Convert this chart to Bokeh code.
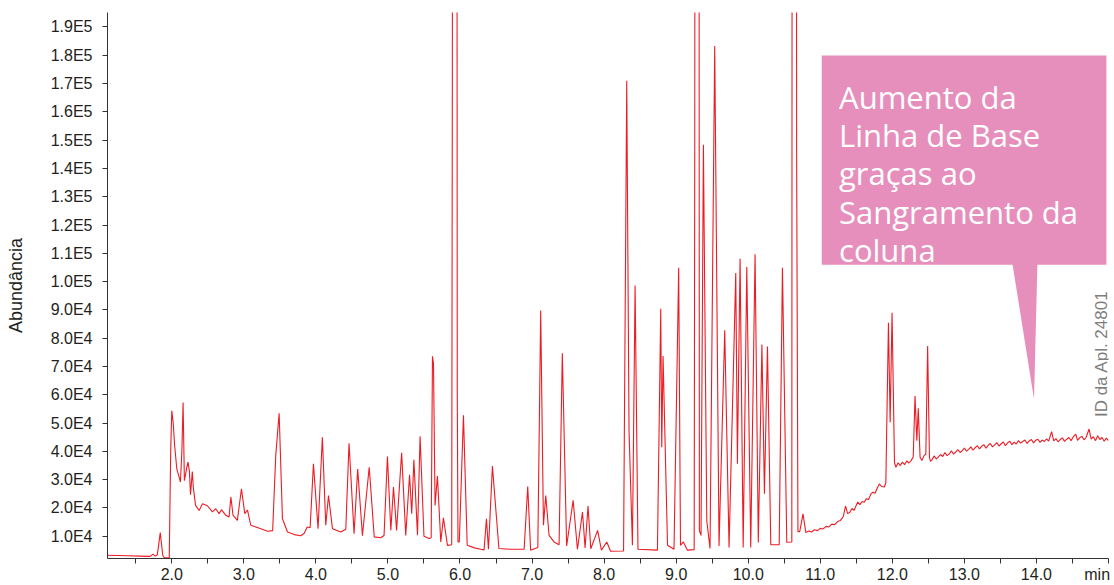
import math
from bokeh.plotting import figure
from bokeh.models import FixedTicker, Label, Range1d
from bokeh.embed import file_html
from bokeh.resources import INLINE

# ---------------- data ----------------
retention_time_min = [
    1.11, 1.25, 1.40, 1.55, 1.70, 1.74, 1.77, 1.80, 1.84, 1.875,
    1.90, 1.965, 1.985, 2.00, 2.02, 2.04, 2.07, 2.12, 2.14, 2.157,
    2.175, 2.21, 2.225, 2.245, 2.26, 2.285, 2.30, 2.33, 2.38, 2.426,
    2.495, 2.565, 2.61, 2.656, 2.69, 2.75, 2.795, 2.82, 2.85, 2.91,
    2.967, 3.013, 3.05, 3.096, 3.235, 3.33, 3.40, 3.443, 3.49, 3.536,
    3.606, 3.70, 3.79, 3.836, 3.88, 3.92, 3.966, 4.03, 4.09, 4.137,
    4.175, 4.23, 4.345, 4.415, 4.46, 4.53, 4.58, 4.646, 4.74, 4.81,
    4.90, 4.946, 4.993, 5.04, 5.077, 5.12, 5.19, 5.247, 5.30, 5.33,
    5.36, 5.41, 5.446, 5.50, 5.57, 5.60, 5.618, 5.632, 5.654, 5.687,
    5.733, 5.77, 5.826, 5.885, 5.894, 5.90, 5.955, 5.962, 5.972, 5.99,
    6.048, 6.10, 6.20, 6.29, 6.334, 6.367, 6.395, 6.45, 6.54, 6.70,
    6.89, 6.94, 6.98, 7.08, 7.12, 7.158, 7.19, 7.236, 7.305, 7.375,
    7.42, 7.48, 7.57, 7.63, 7.70, 7.736, 7.777, 7.815, 7.91, 7.963,
    8.037, 8.09, 8.27, 8.314, 8.346, 8.393, 8.43, 8.47, 8.74, 8.786,
    8.80, 8.818, 8.88, 8.97, 9.035, 9.06, 9.10, 9.156, 9.25, 9.258,
    9.265, 9.315, 9.322, 9.345, 9.378, 9.425, 9.47, 9.535, 9.595, 9.674,
    9.734, 9.827, 9.85, 9.887, 9.93, 9.98, 10.035, 10.095, 10.14, 10.19,
    10.225, 10.267, 10.313, 10.43, 10.475, 10.535, 10.605, 10.612, 10.665, 10.672,
    10.69, 10.715, 10.76, 10.80, 10.84, 10.88, 10.92, 10.96, 11.00, 11.04,
    11.08, 11.12, 11.16, 11.20, 11.24, 11.28, 11.32, 11.35, 11.38, 11.41,
    11.44, 11.47, 11.50, 11.52, 11.55, 11.58, 11.61, 11.64, 11.67, 11.70,
    11.73, 11.76, 11.79, 11.82, 11.85, 11.89, 11.91, 11.946, 11.97, 11.996,
    12.03, 12.05, 12.08, 12.11, 12.14, 12.17, 12.20, 12.23, 12.26, 12.29,
    12.315, 12.34, 12.36, 12.385, 12.41, 12.44, 12.465, 12.49, 12.515, 12.53,
    12.55, 12.58, 12.61, 12.64, 12.67, 12.70, 12.73, 12.76, 12.79, 12.82,
    12.85, 12.88, 12.91, 12.94, 12.97, 13.00, 13.03, 13.06, 13.09, 13.12,
    13.15, 13.18, 13.21, 13.24, 13.27, 13.30, 13.33, 13.36, 13.39, 13.42,
    13.45, 13.48, 13.51, 13.54, 13.57, 13.60, 13.63, 13.66, 13.69, 13.72,
    13.75, 13.78, 13.81, 13.84, 13.87, 13.90, 13.93, 13.96, 13.99, 14.02,
    14.05, 14.08, 14.11, 14.14, 14.17, 14.21, 14.24, 14.27, 14.30, 14.33,
    14.36, 14.39, 14.42, 14.45, 14.48, 14.51, 14.545, 14.57, 14.60, 14.63,
    14.66, 14.69, 14.73, 14.76, 14.79, 14.82, 14.85, 14.88, 14.91, 14.94,
    14.97, 15.00,
]
abundance = [
    3300, 3200, 3100, 3000, 2900, 3700, 3000, 3500, 11300, 3200,
    2400, 2400, 40000, 54400, 50000, 42000, 33800, 29200, 40000, 57300,
    29700, 34500, 36200, 33000, 24700, 32900, 27000, 20900, 19150, 21500,
    20800, 18600, 19750, 18000, 19400, 17400, 16800, 23900, 17500, 15600,
    26800, 18000, 19300, 13900, 12700, 11800, 12000, 38500, 53500, 16200,
    11500, 10600, 10200, 11000, 13300, 13000, 35600, 12700, 45000, 13900,
    24400, 12700, 11500, 12500, 42900, 10950, 33800, 10200, 34400, 9800,
    9500, 10300, 38200, 12100, 27400, 12100, 39500, 10300, 31700, 18000,
    37000, 10350, 45300, 10000, 9200, 9500, 73600, 71000, 20900, 31300,
    8000, 16500, 6800, 7000, 176000, 420000, 420000, 61000, 8000, 8000,
    52800, 6800, 5900, 5400, 5200, 16200, 5400, 34800, 5670, 5400,
    5400, 27600, 5100, 6000, 89800, 13900, 24400, 10350, 8000, 7000,
    74700, 6560, 22700, 5400, 18600, 5900, 20700, 5600, 12100, 5100,
    8000, 4700, 4800, 171000, 47000, 6800, 98600, 5400, 5100, 90400,
    41500, 73700, 6800, 5400, 104900, 6800, 8000, 5100, 5300, 147000,
    420000, 420000, 12000, 10300, 148400, 15500, 5700, 183300, 6550, 82800,
    6000, 103000, 35600, 108100, 6000, 105200, 6000, 109700, 7800, 77800,
    25000, 77100, 7000, 7000, 104900, 7900, 8000, 420000, 420000, 144800,
    11650, 11650, 17900, 11300, 11900, 11500, 12300, 12000, 12800, 12600,
    13500, 13300, 14300, 14100, 15200, 15600, 17000, 20700, 18000, 18500,
    19800, 19200, 21000, 22100, 21200, 22300, 22000, 23300, 23000, 24800,
    25600, 25200, 27000, 28500, 27600, 27400, 29000, 85500, 50300, 89000,
    36000, 34400, 36000, 35000, 36200, 35300, 36600, 35900, 36750, 38000,
    59600, 43800, 55200, 37900, 36800, 38500, 39000, 77200, 37900, 36500,
    37000, 38400, 37300, 38100, 38900, 38200, 39600, 38500, 39100, 40200,
    39000, 39800, 40600, 39600, 40300, 41200, 40100, 40700, 41600, 40400,
    41300, 42000, 40900, 41800, 42400, 41100, 42100, 42800, 41600, 42300,
    43100, 41900, 42700, 43300, 42000, 43000, 43600, 42400, 43300, 42600,
    43800, 42900, 43500, 44000, 42800, 43700, 44200, 43000, 43900, 44300,
    43200, 44000, 43500, 44400, 43600, 47000, 43700, 44500, 43400, 44200,
    44800, 43500, 44300, 44900, 43800, 45100, 46100, 43900, 44800, 45300,
    44100, 45000, 47900, 44300, 45200, 43800, 45500, 44200, 44900, 43600,
    44700, 43800,
]

y_tick_values = [10000, 20000, 30000, 40000, 50000, 60000, 70000, 80000, 90000,
                 100000, 110000, 120000, 130000, 140000, 150000, 160000, 170000,
                 180000, 190000]
y_tick_labels = ["1.0E4", "2.0E4", "3.0E4", "4.0E4", "5.0E4", "6.0E4", "7.0E4",
                 "8.0E4", "9.0E4", "1.0E5", "1.1E5", "1.2E5", "1.3E5", "1.4E5",
                 "1.5E5", "1.6E5", "1.7E5", "1.8E5", "1.9E5"]
x_tick_values = [2, 3, 4, 5, 6, 7, 8, 9, 10, 11, 12, 13, 14, 15]
x_tick_labels = ["2.0", "3.0", "4.0", "5.0", "6.0", "7.0", "8.0", "9.0", "10.0",
                 "11.0", "12.0", "13.0", "14.0", "min"]
x_minor_ticks = [1.5, 2.5, 3.5, 4.5, 5.5, 6.5, 7.5, 8.5, 9.5, 10.5, 11.5, 12.5,
                 13.5, 14.5]

y_axis_title = "Abundância"
callout_lines = ["Aumento da", "Linha de Base", "graças ao",
                 "Sangramento da", "coluna"]
app_id_text = "ID da Apl. 24801"

# ---------------- layout helpers ----------------
X_START, X_END = 1.108, 15.0
Y_START, Y_END = 2150, 195100


def ref_x(px):
    # reference pixel column -> retention time
    return 2.0 + (px - 171.0) / 72.06


def ref_y(py):
    # reference pixel row -> abundance
    return 10000.0 + (537.7 - py) * (10000.0 / 28.41)


AXIS_FONT = "Liberation Sans"
TRACE_RED = "#ec1c24"
CALLOUT_PINK = "#e68fbc"
NBSP = "\u00a0"

p = figure(width=1114, height=585,
           x_range=Range1d(X_START, X_END), y_range=Range1d(Y_START, Y_END),
           output_backend="svg", toolbar_location=None,
           min_border_left=107, min_border_right=6,
           min_border_top=12, min_border_bottom=25)
p.outline_line_color = None
p.grid.visible = False
p.background_fill_color = "white"
p.border_fill_color = "white"

# x axis ("min" is padded on the right so that it ends near the last tick)
x_overrides = {}
for t, lab in zip(x_tick_values, x_tick_labels):
    x_overrides[t] = lab if lab != "min" else lab + NBSP
p.xaxis.ticker = FixedTicker(ticks=x_tick_values, minor_ticks=x_minor_ticks)
p.xaxis.major_label_overrides = x_overrides
p.xaxis.major_tick_out = 5
p.xaxis.major_tick_in = 0
p.xaxis.minor_tick_out = 5
p.xaxis.minor_tick_in = 0
p.xaxis.major_label_standoff = 2
p.xaxis.axis_line_color = "#333333"
p.xaxis.major_tick_line_color = "#333333"
p.xaxis.minor_tick_line_color = "#333333"
p.xaxis.major_label_text_font = AXIS_FONT
p.xaxis.major_label_text_font_size = "16px"
p.xaxis.major_label_text_color = "#231f20"

# y axis
p.yaxis.ticker = FixedTicker(ticks=y_tick_values)
p.yaxis.major_label_overrides = dict(zip(y_tick_values, y_tick_labels))
p.yaxis.major_tick_out = 5
p.yaxis.major_tick_in = 0
p.yaxis.minor_tick_line_color = None
p.yaxis.major_label_standoff = 10
p.yaxis.axis_line_color = "#333333"
p.yaxis.major_tick_line_color = "#333333"
p.yaxis.major_label_text_font = AXIS_FONT
p.yaxis.major_label_text_font_size = "16px"
p.yaxis.major_label_text_color = "#231f20"
p.yaxis.axis_label = y_axis_title
p.yaxis.axis_label_text_font = AXIS_FONT
p.yaxis.axis_label_text_font_size = "18px"
p.yaxis.axis_label_text_font_style = "normal"
p.yaxis.axis_label_text_color = "#231f20"
p.yaxis.axis_label_standoff = 22

# chromatogram trace
p.line(retention_time_min, abundance, line_color=TRACE_RED, line_width=1.1)

# callout box with pointer
p.quad(left=[ref_x(821)], right=[ref_x(1105.7)], top=[ref_y(55)],
       bottom=[ref_y(265)], fill_color=CALLOUT_PINK, line_color=None)
p.patch([ref_x(1011.7), ref_x(1036.7), ref_x(1033.3)],
        [ref_y(264), ref_y(264), ref_y(400)],
        fill_color=CALLOUT_PINK, line_color=None)

baselines_px = [96.7, 135.0, 173.3, 211.7, 250.0]
for line_text, bpx in zip(callout_lines, baselines_px):
    p.add_layout(Label(x=ref_x(838.3), y=ref_y(bpx), text=line_text,
                       text_align="left", text_baseline="alphabetic",
                       text_font="Open Sans", text_font_size="31px",
                       text_color="white"))

# vertical application ID
p.add_layout(Label(x=ref_x(1100.5), y=ref_y(418), text=app_id_text,
                   angle=math.pi / 2, text_align="left",
                   text_baseline="middle", text_font=AXIS_FONT,
                   text_font_size="17px", text_color="#7d7d7d"))

open("out.html", "w").write(file_html(p, INLINE))
